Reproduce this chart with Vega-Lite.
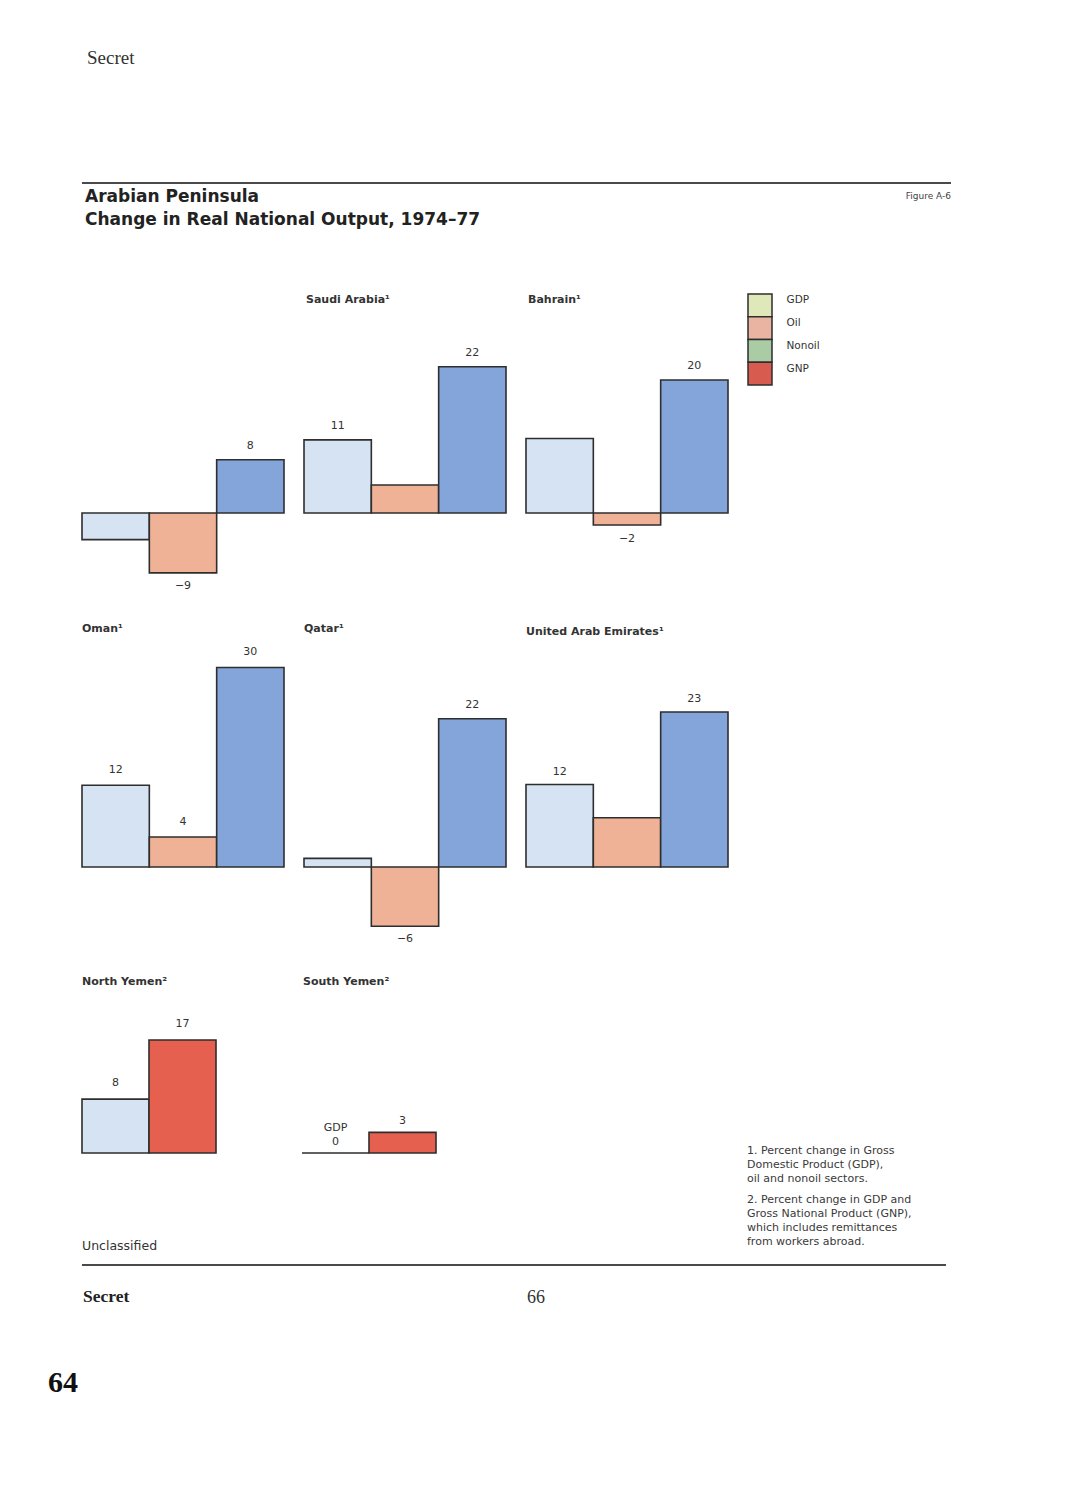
{
  "$schema": "https://vega.github.io/schema/vega-lite/v6.json",
  "background": "white",
  "padding": {"left": 48, "top": 49, "right": 0, "bottom": 0},
  "title": {"text": "Secret", "anchor": "start", "frame": "group", "dx": 39, "offset": 114, "font": "Liberation Serif", "fontSize": 19, "fontWeight": "normal", "color": "#333333"},
  "config": {
    "view": {"stroke": null},
    "font": "DejaVu Sans",
    "text": {"font": "DejaVu Sans", "fontSize": 11, "color": "#333333"},
    "title": {"font": "DejaVu Sans", "subtitleFont": "DejaVu Sans", "color": "#2a2a2a"}
  },
  "datasets": {
    "output": [
      {"country": "Kuwait", "series": "GDP", "value": -4, "label": ""},
      {"country": "Kuwait", "series": "Oil", "value": -9, "label": "−9"},
      {"country": "Kuwait", "series": "Nonoil", "value": 8, "label": "8"},
      {"country": "Saudi Arabia", "series": "GDP", "value": 11, "label": "11"},
      {"country": "Saudi Arabia", "series": "Oil", "value": 4.2, "label": ""},
      {"country": "Saudi Arabia", "series": "Nonoil", "value": 22, "label": "22"},
      {"country": "Bahrain", "series": "GDP", "value": 11.2, "label": ""},
      {"country": "Bahrain", "series": "Oil", "value": -1.8, "label": "−2"},
      {"country": "Bahrain", "series": "Nonoil", "value": 20, "label": "20"},
      {"country": "Oman", "series": "GDP", "value": 12.3, "label": "12"},
      {"country": "Oman", "series": "Oil", "value": 4.5, "label": "4"},
      {"country": "Oman", "series": "Nonoil", "value": 30, "label": "30"},
      {"country": "Qatar", "series": "GDP", "value": 1.3, "label": ""},
      {"country": "Qatar", "series": "Oil", "value": -8.9, "label": "−6"},
      {"country": "Qatar", "series": "Nonoil", "value": 22.3, "label": "22"},
      {"country": "United Arab Emirates", "series": "GDP", "value": 12.4, "label": "12"},
      {"country": "United Arab Emirates", "series": "Oil", "value": 7.4, "label": ""},
      {"country": "United Arab Emirates", "series": "Nonoil", "value": 23.3, "label": "23"},
      {"country": "North Yemen", "series": "GDP", "value": 8.1, "label": "8"},
      {"country": "North Yemen", "series": "GNP", "value": 17, "label": "17"},
      {"country": "South Yemen", "series": "GDP", "value": 0, "label": "GDP\n0"},
      {"country": "South Yemen", "series": "GNP", "value": 3.1, "label": "3"}
    ]
  },
  "spacing": 0,
  "resolve": {"scale": {"x": "independent", "y": "independent", "color": "independent", "fill": "independent"}},
  "hconcat": [
    {
      "width": 33, "height": 1230,
      "data": {"values": []}, "mark": "rule", "encoding": {},
      "title": {"text": "64", "orient": "top", "anchor": "start", "frame": "group", "offset": -1215, "font": "Liberation Serif", "fontSize": 30, "fontWeight": "bold", "color": "#111111"}
    },
    {
      "spacing": 0,
      "resolve": {"scale": {"x": "independent", "y": "independent", "color": "independent", "fill": "independent"}},
      "vconcat": [
        {
          "hconcat": [
            {
              "width": 805, "height": 110,
              "data": {"values": [{"edge": "top rule"}]},
              "mark": {"type": "rule", "color": "#4a4a4a", "strokeWidth": 2},
              "encoding": {"y": {"datum": 1, "type": "quantitative", "scale": {"domain": [0, 1]}, "axis": null}},
              "title": {"text": ["Arabian Peninsula", "Change in Real National Output, 1974–77"], "orient": "bottom", "anchor": "start", "frame": "group", "dx": 3, "offset": -104, "fontSize": 17, "fontWeight": "bold", "lineHeight": 23, "color": "#222222"}
            },
            {
              "width": 64, "height": 110,
              "data": {"values": [{"edge": "top rule"}]},
              "mark": {"type": "rule", "color": "#4a4a4a", "strokeWidth": 2},
              "encoding": {"y": {"datum": 1, "type": "quantitative", "scale": {"domain": [0, 1]}, "axis": null}},
              "title": {"text": "Figure A-6", "orient": "bottom", "anchor": "end", "frame": "group", "offset": -101, "fontSize": 9, "fontWeight": "normal", "color": "#444444"}
            }
          ],
          "spacing": 0, "bounds": "flush",
          "resolve": {"scale": {"y": "independent"}}
        },
        {
          "hconcat": [
            {
              "width": 202, "height": 329,
              "data": {"name": "output"},
              "transform": [{"filter": "datum.country === 'Kuwait'"}],
              "encoding": {
                "x": {"field": "series", "type": "nominal", "sort": null, "scale": {"domain": ["GDP", "Oil", "Nonoil"], "paddingInner": 0, "paddingOuter": 0}, "axis": null},
                "y": {"field": "value", "type": "quantitative", "scale": {"domain": [-16.54, 32.93], "nice": false}, "axis": null}
              },
              "layer": [
                {"mark": {"type": "bar", "stroke": "#2e2e2e", "strokeWidth": 1.6}, "encoding": {"color": {"field": "series", "type": "nominal", "scale": {"domain": ["GDP", "Oil", "Nonoil", "GNP"], "range": ["#d6e3f3", "#efb297", "#83a5d9", "#e5604f"]}, "legend": null}}},
                {"transform": [{"filter": "datum.value >= 0"}], "mark": {"type": "text", "baseline": "alphabetic", "dy": -11}, "encoding": {"text": {"field": "label"}}},
                {"transform": [{"filter": "datum.value < 0"}], "mark": {"type": "text", "baseline": "alphabetic", "dy": 16}, "encoding": {"text": {"field": "label"}}}
              ]
            },
            {
              "width": 202, "height": 329,
              "title": {"text": "Saudi Arabia¹", "anchor": "start", "frame": "group", "dx": 2, "offset": -11, "fontSize": 11, "fontWeight": "bold", "color": "#333333"},
              "data": {"name": "output"},
              "transform": [{"filter": "datum.country === 'Saudi Arabia'"}],
              "encoding": {
                "x": {"field": "series", "type": "nominal", "sort": null, "scale": {"domain": ["GDP", "Oil", "Nonoil"], "paddingInner": 0, "paddingOuter": 0}, "axis": null},
                "y": {"field": "value", "type": "quantitative", "scale": {"domain": [-16.54, 32.93], "nice": false}, "axis": null}
              },
              "layer": [
                {"mark": {"type": "bar", "stroke": "#2e2e2e", "strokeWidth": 1.6}, "encoding": {"color": {"field": "series", "type": "nominal", "scale": {"domain": ["GDP", "Oil", "Nonoil", "GNP"], "range": ["#d6e3f3", "#efb297", "#83a5d9", "#e5604f"]}, "legend": null}}},
                {"transform": [{"filter": "datum.value >= 0"}], "mark": {"type": "text", "baseline": "alphabetic", "dy": -11}, "encoding": {"text": {"field": "label"}}},
                {"transform": [{"filter": "datum.value < 0"}], "mark": {"type": "text", "baseline": "alphabetic", "dy": 16}, "encoding": {"text": {"field": "label"}}}
              ]
            },
            {
              "width": 202, "height": 329,
              "title": {"text": "Bahrain¹", "anchor": "start", "frame": "group", "dx": 2, "offset": -11, "fontSize": 11, "fontWeight": "bold", "color": "#333333"},
              "data": {"name": "output"},
              "transform": [{"filter": "datum.country === 'Bahrain'"}],
              "encoding": {
                "x": {"field": "series", "type": "nominal", "sort": null, "scale": {"domain": ["GDP", "Oil", "Nonoil"], "paddingInner": 0, "paddingOuter": 0}, "axis": null},
                "y": {"field": "value", "type": "quantitative", "scale": {"domain": [-16.54, 32.93], "nice": false}, "axis": null}
              },
              "layer": [
                {"mark": {"type": "bar", "stroke": "#2e2e2e", "strokeWidth": 1.6}, "encoding": {"color": {"field": "series", "type": "nominal", "scale": {"domain": ["GDP", "Oil", "Nonoil", "GNP"], "range": ["#d6e3f3", "#efb297", "#83a5d9", "#e5604f"]}, "legend": null}}},
                {"transform": [{"filter": "datum.value >= 0"}], "mark": {"type": "text", "baseline": "alphabetic", "dy": -11}, "encoding": {"text": {"field": "label"}}},
                {"transform": [{"filter": "datum.value < 0"}], "mark": {"type": "text", "baseline": "alphabetic", "dy": 17}, "encoding": {"text": {"field": "label"}}}
              ]
            },
            {
              "width": 24, "height": 91,
              "data": {"values": [{"series": "GDP"}, {"series": "Oil"}, {"series": "Nonoil"}, {"series": "GNP"}]},
              "mark": {"type": "rect", "stroke": "#2e2e2e", "strokeWidth": 1.5},
              "encoding": {
                "y": {"field": "series", "type": "nominal", "sort": null, "scale": {"domain": ["GDP", "Oil", "Nonoil", "GNP"], "paddingInner": 0, "paddingOuter": 0}, "axis": {"orient": "right", "domain": false, "ticks": false, "title": null, "labelPadding": 14, "labelFontSize": 10.5, "labelColor": "#333333", "labelOffset": -5, "labelFont": "DejaVu Sans"}},
                "fill": {"field": "series", "type": "nominal", "scale": {"domain": ["GDP", "Oil", "Nonoil", "GNP"], "range": ["#dfe8b8", "#e9b4a2", "#a9cca5", "#d85b50"]}, "legend": null}
              }
            }
          ],
          "spacing": 20, "bounds": "flush",
          "resolve": {"scale": {"x": "independent", "y": "independent", "color": "independent", "fill": "independent"}}
        },
        {
          "hconcat": [
            {
              "width": 202, "height": 353,
              "title": {"text": "Oman¹", "anchor": "start", "frame": "group", "dx": 0, "offset": -11, "fontSize": 11, "fontWeight": "bold", "color": "#333333"},
              "data": {"name": "output"},
              "transform": [{"filter": "datum.country === 'Oman'"}],
              "encoding": {
                "x": {"field": "series", "type": "nominal", "sort": null, "scale": {"domain": ["GDP", "Oil", "Nonoil"], "paddingInner": 0, "paddingOuter": 0}, "axis": null},
                "y": {"field": "value", "type": "quantitative", "scale": {"domain": [-16.39, 36.69], "nice": false}, "axis": null}
              },
              "layer": [
                {"mark": {"type": "bar", "stroke": "#2e2e2e", "strokeWidth": 1.6}, "encoding": {"color": {"field": "series", "type": "nominal", "scale": {"domain": ["GDP", "Oil", "Nonoil", "GNP"], "range": ["#d6e3f3", "#efb297", "#83a5d9", "#e5604f"]}, "legend": null}}},
                {"transform": [{"filter": "datum.value >= 0"}], "mark": {"type": "text", "baseline": "alphabetic", "dy": -12}, "encoding": {"text": {"field": "label"}}},
                {"transform": [{"filter": "datum.value < 0"}], "mark": {"type": "text", "baseline": "alphabetic", "dy": 16}, "encoding": {"text": {"field": "label"}}}
              ]
            },
            {
              "width": 202, "height": 353,
              "title": {"text": "Qatar¹", "anchor": "start", "frame": "group", "dx": 0, "offset": -11, "fontSize": 11, "fontWeight": "bold", "color": "#333333"},
              "data": {"name": "output"},
              "transform": [{"filter": "datum.country === 'Qatar'"}],
              "encoding": {
                "x": {"field": "series", "type": "nominal", "sort": null, "scale": {"domain": ["GDP", "Oil", "Nonoil"], "paddingInner": 0, "paddingOuter": 0}, "axis": null},
                "y": {"field": "value", "type": "quantitative", "scale": {"domain": [-16.39, 36.69], "nice": false}, "axis": null}
              },
              "layer": [
                {"mark": {"type": "bar", "stroke": "#2e2e2e", "strokeWidth": 1.6}, "encoding": {"color": {"field": "series", "type": "nominal", "scale": {"domain": ["GDP", "Oil", "Nonoil", "GNP"], "range": ["#d6e3f3", "#efb297", "#83a5d9", "#e5604f"]}, "legend": null}}},
                {"transform": [{"filter": "datum.value >= 0"}], "mark": {"type": "text", "baseline": "alphabetic", "dy": -11}, "encoding": {"text": {"field": "label"}}},
                {"transform": [{"filter": "datum.value < 0"}], "mark": {"type": "text", "baseline": "alphabetic", "dy": 16}, "encoding": {"text": {"field": "label"}}}
              ]
            },
            {
              "width": 202, "height": 353,
              "title": {"text": "United Arab Emirates¹", "anchor": "start", "frame": "group", "dx": 0, "offset": -14, "fontSize": 11, "fontWeight": "bold", "color": "#333333"},
              "data": {"name": "output"},
              "transform": [{"filter": "datum.country === 'United Arab Emirates'"}],
              "encoding": {
                "x": {"field": "series", "type": "nominal", "sort": null, "scale": {"domain": ["GDP", "Oil", "Nonoil"], "paddingInner": 0, "paddingOuter": 0}, "axis": null},
                "y": {"field": "value", "type": "quantitative", "scale": {"domain": [-16.39, 36.69], "nice": false}, "axis": null}
              },
              "layer": [
                {"mark": {"type": "bar", "stroke": "#2e2e2e", "strokeWidth": 1.6}, "encoding": {"color": {"field": "series", "type": "nominal", "scale": {"domain": ["GDP", "Oil", "Nonoil", "GNP"], "range": ["#d6e3f3", "#efb297", "#83a5d9", "#e5604f"]}, "legend": null}}},
                {"transform": [{"filter": "datum.value >= 0"}], "mark": {"type": "text", "baseline": "alphabetic", "dy": -10}, "encoding": {"text": {"field": "label"}}},
                {"transform": [{"filter": "datum.value < 0"}], "mark": {"type": "text", "baseline": "alphabetic", "dy": 16}, "encoding": {"text": {"field": "label"}}}
              ]
            }
          ],
          "spacing": 20, "bounds": "flush",
          "resolve": {"scale": {"x": "independent", "y": "independent", "color": "independent"}}
        },
        {
          "hconcat": [
            {
              "vconcat": [
                {
                  "hconcat": [
                    {
                      "width": 134, "height": 263,
                      "title": {"text": "North Yemen²", "anchor": "start", "frame": "group", "dx": 0, "offset": -11, "fontSize": 11, "fontWeight": "bold", "color": "#333333"},
                      "data": {"name": "output"},
                      "transform": [{"filter": "datum.country === 'North Yemen'"}],
                      "encoding": {
                        "x": {"field": "series", "type": "nominal", "sort": null, "scale": {"domain": ["GDP", "GNP"], "paddingInner": 0, "paddingOuter": 0}, "axis": null},
                        "y": {"field": "value", "type": "quantitative", "scale": {"domain": [-12.93, 26.62], "nice": false}, "axis": null}
                      },
                      "layer": [
                        {"mark": {"type": "bar", "stroke": "#2e2e2e", "strokeWidth": 1.6}, "encoding": {"color": {"field": "series", "type": "nominal", "scale": {"domain": ["GDP", "Oil", "Nonoil", "GNP"], "range": ["#d6e3f3", "#efb297", "#83a5d9", "#e5604f"]}, "legend": null}}},
                        {"transform": [{"filter": "datum.value >= 0"}], "mark": {"type": "text", "baseline": "alphabetic", "dy": -13}, "encoding": {"text": {"field": "label"}}}
                      ]
                    },
                    {
                      "width": 134, "height": 263,
                      "title": {"text": "South Yemen²", "anchor": "start", "frame": "group", "dx": 1, "offset": -11, "fontSize": 11, "fontWeight": "bold", "color": "#333333"},
                      "data": {"name": "output"},
                      "transform": [{"filter": "datum.country === 'South Yemen'"}],
                      "encoding": {
                        "x": {"field": "series", "type": "nominal", "sort": null, "scale": {"domain": ["GDP", "GNP"], "paddingInner": 0, "paddingOuter": 0}, "axis": null},
                        "y": {"field": "value", "type": "quantitative", "scale": {"domain": [-12.93, 26.62], "nice": false}, "axis": null}
                      },
                      "layer": [
                        {"mark": {"type": "bar", "stroke": "#2e2e2e", "strokeWidth": 1.6}, "encoding": {"color": {"field": "series", "type": "nominal", "scale": {"domain": ["GDP", "Oil", "Nonoil", "GNP"], "range": ["#d6e3f3", "#efb297", "#83a5d9", "#e5604f"]}, "legend": null}}},
                        {"transform": [{"filter": "datum.series === 'GNP'"}], "mark": {"type": "text", "baseline": "alphabetic", "dy": -8}, "encoding": {"text": {"field": "label"}}},
                        {"transform": [{"filter": "datum.series === 'GDP'"}], "mark": {"type": "text", "baseline": "alphabetic", "dy": -22, "lineBreak": "\n", "lineHeight": 14}, "encoding": {"text": {"field": "label"}}}
                      ]
                    }
                  ],
                  "spacing": 86, "bounds": "flush",
                  "resolve": {"scale": {"x": "independent", "y": "independent", "color": "independent"}}
                },
                {
                  "width": 354, "height": 23,
                  "data": {"values": []}, "mark": "rule", "encoding": {},
                  "title": {"text": "Unclassified", "orient": "top", "anchor": "start", "frame": "group", "dx": 0, "offset": -13, "fontSize": 12.5, "fontWeight": "normal", "color": "#333333"}
                }
              ],
              "spacing": 0,
              "resolve": {"scale": {"x": "independent", "y": "independent", "color": "independent"}}
            },
            {
              "width": 200, "height": 288,
              "data": {"values": []}, "mark": "rule", "encoding": {},
              "title": {
                "text": ["1. Percent change in Gross", "Domestic Product (GDP),", "oil and nonoil sectors."],
                "subtitle": ["2. Percent change in GDP and", "Gross National Product (GNP),", "which includes remittances", "from workers abroad."],
                "orient": "top", "anchor": "start", "frame": "group", "offset": -271,
                "fontSize": 11, "fontWeight": "normal", "lineHeight": 14, "color": "#3a3a3a",
                "subtitleFontSize": 11, "subtitleLineHeight": 14, "subtitlePadding": 10, "subtitleColor": "#3a3a3a"
              }
            }
          ],
          "spacing": 310,
          "resolve": {"scale": {"x": "independent", "y": "independent", "color": "independent"}}
        },
        {
          "width": 864, "height": 2,
          "data": {"values": [{"edge": "bottom rule"}]},
          "mark": {"type": "rule", "color": "#4a4a4a", "strokeWidth": 2},
          "encoding": {"y": {"datum": 0.5, "type": "quantitative", "scale": {"domain": [0, 1]}, "axis": null}}
        },
        {
          "hconcat": [
            {
              "width": 453, "height": 45,
              "data": {"values": []}, "mark": "rule", "encoding": {},
              "title": {"text": "Secret", "orient": "top", "anchor": "start", "frame": "group", "dx": 1, "offset": -39, "font": "Liberation Serif", "fontSize": 17.5, "fontWeight": "bold", "color": "#222222"}
            },
            {
              "width": 2, "height": 45,
              "data": {"values": []}, "mark": "rule", "encoding": {},
              "title": {"text": "66", "orient": "top", "anchor": "middle", "frame": "group", "offset": -41, "font": "Liberation Serif", "fontSize": 18, "fontWeight": "normal", "color": "#333333"}
            }
          ],
          "spacing": 0, "bounds": "flush"
        }
      ]
    }
  ]
}
